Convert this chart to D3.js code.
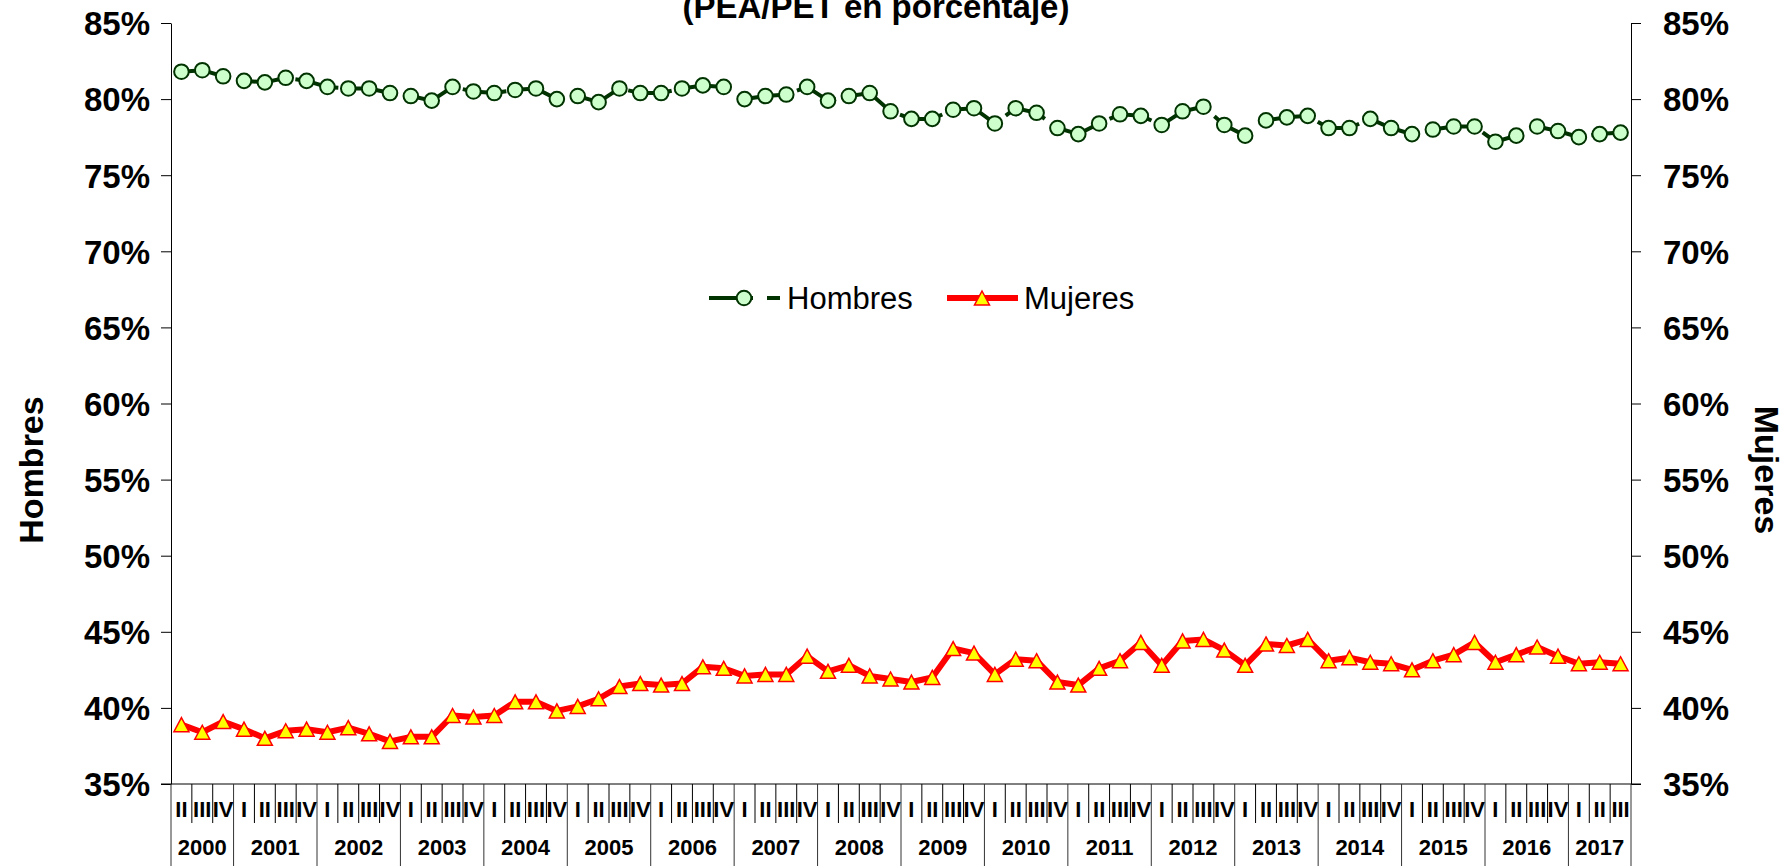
<!DOCTYPE html>
<html>
<head>
<meta charset="utf-8">
<script src="https://cdn.jsdelivr.net/npm/d3@7"></script>
<style>
  body { margin: 0; background: #fff; }
  text { font-family: "Liberation Sans", Arial, sans-serif; }
</style>
</head>
<body>
<div id="chart"></div>
<script>
// years shown on the category axis and the quarters each one has
var years = ["2000","2001","2002","2003","2004","2005","2006","2007","2008",
             "2009","2010","2011","2012","2013","2014","2015","2016","2017"];
var yearQuarters = [
  ["II","III","IV"],
  ["I","II","III","IV"], ["I","II","III","IV"], ["I","II","III","IV"], ["I","II","III","IV"],
  ["I","II","III","IV"], ["I","II","III","IV"], ["I","II","III","IV"], ["I","II","III","IV"],
  ["I","II","III","IV"], ["I","II","III","IV"], ["I","II","III","IV"], ["I","II","III","IV"],
  ["I","II","III","IV"], ["I","II","III","IV"], ["I","II","III","IV"], ["I","II","III","IV"],
  ["I","II","III"]
];

// tasa de actividad (PEA/PET, %)
var hombres = [81.8, 81.9, 81.5,
  81.2, 81.1, 81.4, 81.2,
  80.8, 80.7, 80.7, 80.4,
  80.2, 79.9, 80.8, 80.5,
  80.4, 80.6, 80.7, 80.0,
  80.2, 79.8, 80.7, 80.4,
  80.4, 80.7, 80.9, 80.8,
  80.0, 80.2, 80.3, 80.8,
  79.9, 80.2, 80.4, 79.2,
  78.7, 78.7, 79.3, 79.4,
  78.4, 79.4, 79.1, 78.1,
  77.7, 78.4, 79.0, 78.9,
  78.3, 79.2, 79.5, 78.3,
  77.6, 78.6, 78.8, 78.9,
  78.1, 78.1, 78.7, 78.1,
  77.7, 78.0, 78.2, 78.2,
  77.2, 77.6, 78.2, 77.9,
  77.5, 77.7, 77.8];

var mujeres = [38.9, 38.4, 39.1,
  38.6, 38.0, 38.5, 38.6,
  38.4, 38.7, 38.3, 37.8,
  38.1, 38.1, 39.5, 39.4,
  39.5, 40.4, 40.4, 39.8,
  40.1, 40.6, 41.4, 41.6,
  41.5, 41.6, 42.7, 42.6,
  42.1, 42.2, 42.2, 43.4,
  42.4, 42.8, 42.1, 41.9,
  41.7, 42.0, 43.9, 43.6,
  42.2, 43.2, 43.1, 41.7,
  41.5, 42.6, 43.1, 44.3,
  42.8, 44.4, 44.5, 43.8,
  42.8, 44.2, 44.1, 44.5,
  43.1, 43.3, 43.0, 42.9,
  42.5, 43.1, 43.5, 44.3,
  43.0, 43.5, 44.0, 43.4,
  42.9, 43.0, 42.9];

var yTicks = [35, 40, 45, 50, 55, 60, 65, 70, 75, 80, 85];

(function() {
  var W = 1788, H = 866;
  var left = 171, right = 1631, top = 23, bottom = 784;

  // flat list of periods
  var periods = [];
  years.forEach(function(y, i) {
    yearQuarters[i].forEach(function(q) { periods.push({ year: y, q: q, key: y + "-" + q }); });
  });

  var svg = d3.select("#chart").append("svg")
    .attr("width", W).attr("height", H)
    .style("display", "block");

  var xScale = d3.scaleBand().domain(periods.map(function(d) { return d.key; }))
    .range([left, right]).padding(0);
  var yLeft = d3.scaleLinear().domain([35, 85]).range([bottom, top]);
  var yRight = d3.scaleLinear().domain([35, 85]).range([bottom, top]);

  function cx(i) { return xScale(periods[i].key) + xScale.bandwidth() / 2; }

  // title (only the second line is visible)
  svg.append("text")
    .attr("x", 876).attr("y", 18)
    .attr("text-anchor", "middle")
    .style("font-size", "33px").style("font-weight", "bold")
    .text("(PEA/PET en porcentaje)");

  // y axes
  var fmt = function(d) { return d + "%"; };
  var axL = svg.append("g")
    .attr("transform", "translate(" + left + ",0)")
    .call(d3.axisLeft(yLeft).tickValues(yTicks).tickFormat(fmt)
      .tickSize(10).tickSizeOuter(0).tickPadding(11));
  var axR = svg.append("g")
    .attr("transform", "translate(" + right + ",0)")
    .call(d3.axisRight(yRight).tickValues(yTicks).tickFormat(fmt)
      .tickSize(10).tickSizeOuter(0).tickPadding(22));
  [axL, axR].forEach(function(ax) {
    ax.selectAll("text")
      .style("font-size", "33px").style("font-weight", "bold")
      .style("font-family", "'Liberation Sans', Arial, sans-serif")
      .attr("fill", "#000").attr("dy", "0.36em");
    ax.selectAll("line").attr("stroke", "#000");
    ax.select(".domain").attr("stroke", "#000");
  });

  // axis titles
  svg.append("text")
    .attr("transform", "translate(43,470) rotate(-90)")
    .attr("text-anchor", "middle")
    .style("font-size", "34px").style("font-weight", "bold")
    .text("Hombres");
  svg.append("text")
    .attr("transform", "translate(1755,470) rotate(90)")
    .attr("text-anchor", "middle")
    .style("font-size", "34px").style("font-weight", "bold")
    .text("Mujeres");

  // category axis: line, quarter ticks, year dividers
  var xa = svg.append("g").attr("class", "x-axis");
  xa.append("line")
    .attr("x1", left - 10).attr("x2", right + 10)
    .attr("y1", bottom).attr("y2", bottom)
    .attr("stroke", "#000");

  var yearStart = [];
  periods.forEach(function(d, i) {
    if (i === 0 || periods[i - 1].year !== d.year) yearStart.push(i);
  });

  periods.forEach(function(d, i) {
    if (i === 0 || yearStart.indexOf(i) >= 0) return;
    xa.append("line")
      .attr("x1", xScale(d.key)).attr("x2", xScale(d.key))
      .attr("y1", bottom).attr("y2", 823)
      .attr("stroke", "#000");
  });
  yearStart.concat([periods.length]).forEach(function(i) {
    var x = i < periods.length ? xScale(periods[i].key) : right;
    xa.append("line")
      .attr("x1", x).attr("x2", x)
      .attr("y1", bottom).attr("y2", H)
      .attr("stroke", "#333");
  });

  xa.selectAll(".qlab")
    .data(periods)
    .enter().append("text")
    .attr("class", "qlab")
    .attr("x", function(d, i) { return cx(i); })
    .attr("y", 817)
    .attr("text-anchor", "middle")
    .style("font-size", "22px").style("font-weight", "bold")
    .text(function(d) { return d.q; });

  xa.selectAll(".ylab")
    .data(years)
    .enter().append("text")
    .attr("class", "ylab")
    .attr("x", function(d, j) {
      var a = yearStart[j];
      var b = j + 1 < yearStart.length ? yearStart[j + 1] : periods.length;
      var x0 = xScale(periods[a].key);
      var x1 = b < periods.length ? xScale(periods[b].key) : right;
      return (x0 + x1) / 2;
    })
    .attr("y", 855)
    .attr("text-anchor", "middle")
    .style("font-size", "22px").style("font-weight", "bold")
    .text(function(d) { return d; });

  // series styles
  var hStroke = "#003300", hFill = "#CCFFCC", hDash = "44,14";
  var mStroke = "#FF0000", mFill = "#FFFF00";

  function triPath(w, h) {
    return "M0," + (-h / 2) + "L" + (w / 2) + "," + (h / 2) + "L" + (-w / 2) + "," + (h / 2) + "Z";
  }

  // Hombres
  var lineH = d3.line()
    .x(function(d, i) { return cx(i); })
    .y(function(d) { return yLeft(d); });
  svg.append("path")
    .datum(hombres)
    .attr("d", lineH)
    .attr("fill", "none")
    .attr("stroke", hStroke)
    .attr("stroke-width", 4)
    .attr("stroke-dasharray", hDash);
  svg.selectAll(".hombre")
    .data(hombres)
    .enter().append("circle")
    .attr("class", "hombre")
    .attr("cx", function(d, i) { return cx(i); })
    .attr("cy", function(d) { return yLeft(d); })
    .attr("r", 7.3)
    .attr("fill", hFill)
    .attr("stroke", hStroke)
    .attr("stroke-width", 2);

  // Mujeres (secondary axis)
  var lineM = d3.line()
    .x(function(d, i) { return cx(i); })
    .y(function(d) { return yRight(d); });
  svg.append("path")
    .datum(mujeres)
    .attr("d", lineM)
    .attr("fill", "none")
    .attr("stroke", mStroke)
    .attr("stroke-width", 6)
    .attr("stroke-linejoin", "round");
  svg.selectAll(".mujer")
    .data(mujeres)
    .enter().append("path")
    .attr("class", "mujer")
    .attr("d", triPath(15, 14))
    .attr("transform", function(d, i) { return "translate(" + cx(i) + "," + yRight(d) + ")"; })
    .attr("fill", mFill)
    .attr("stroke", mStroke)
    .attr("stroke-width", 1.5);

  // legend
  var lg = svg.append("g").attr("class", "legend");
  var ly = 298;
  lg.append("line")
    .attr("x1", 709).attr("x2", 780).attr("y1", ly).attr("y2", ly)
    .attr("stroke", hStroke).attr("stroke-width", 4).attr("stroke-dasharray", hDash);
  lg.append("circle")
    .attr("cx", 744).attr("cy", ly).attr("r", 7.3)
    .attr("fill", hFill).attr("stroke", hStroke).attr("stroke-width", 2);
  lg.append("text")
    .attr("x", 787).attr("y", ly + 11)
    .style("font-size", "31px")
    .text("Hombres");

  lg.append("line")
    .attr("x1", 947).attr("x2", 1018).attr("y1", ly).attr("y2", ly)
    .attr("stroke", mStroke).attr("stroke-width", 6);
  lg.append("path")
    .attr("d", triPath(15, 14))
    .attr("transform", "translate(982," + ly + ")")
    .attr("fill", mFill).attr("stroke", mStroke).attr("stroke-width", 1.5);
  lg.append("text")
    .attr("x", 1024).attr("y", ly + 11)
    .style("font-size", "31px")
    .text("Mujeres");
})();
</script>
</body>
</html>
